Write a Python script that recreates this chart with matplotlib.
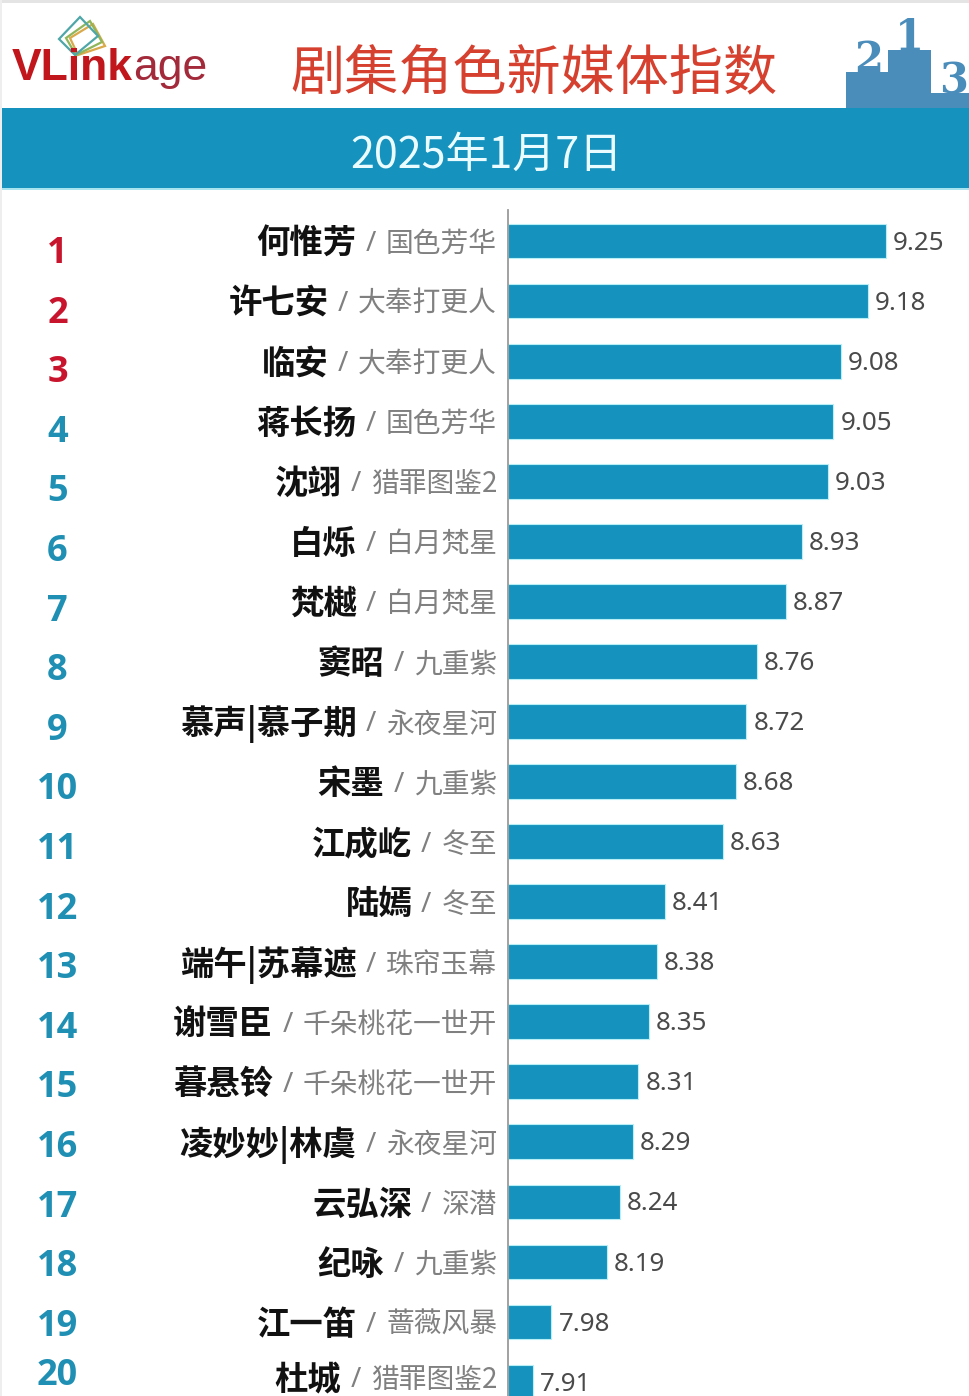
import matplotlib
matplotlib.use("Agg")
import matplotlib.pyplot as plt
from matplotlib.patches import Polygon, Rectangle

plt.rcParams['font.family'] = ['Noto Sans CJK SC', 'DejaVu Sans']

roles = ["何惟芳","许七安","临安","蒋长扬","沈翊","白烁","梵樾","窦昭","慕声|慕子期","宋墨",
         "江成屹","陆嫣","端午|苏幕遮","谢雪臣","暮悬铃","凌妙妙|林虞","云弘深","纪咏","江一笛","杜城"]
shows = ["国色芳华","大奉打更人","大奉打更人","国色芳华","猎罪图鉴2","白月梵星","白月梵星","九重紫","永夜星河","九重紫",
         "冬至","冬至","珠帘玉幕","千朵桃花一世开","千朵桃花一世开","永夜星河","深潜","九重紫","蔷薇风暴","猎罪图鉴2"]
values = [9.25,9.18,9.08,9.05,9.03,8.93,8.87,8.76,8.72,8.68,
          8.63,8.41,8.38,8.35,8.31,8.29,8.24,8.19,7.98,7.91]
ranks = list(range(1, 21))
title = "剧集角色新媒体指数"
date_label = "2025年1月7日"

W, H = 970, 1396
BLUE = "#1592bd"
fig = plt.figure(figsize=(W/100, H/100), dpi=100, facecolor="white")

bg = fig.add_axes([0, 0, 1, 1])
bg.set_xlim(0, W); bg.set_ylim(H, 0); bg.axis("off")
bg.add_patch(Rectangle((0, 0), W, 3, fc="#e4e4e4", ec="none"))
bg.add_patch(Rectangle((0, 0), 2, H, fc="#eeeeee", ec="none"))
bg.add_patch(Rectangle((2, 108), W, 80, fc=BLUE, ec="none"))
bg.add_patch(Rectangle((2, 188), W, 1.5, fc="#a8e4f0", ec="none"))

# logo
for pts, c, lw in [([(70,38),(93,24),(105,46),(78,55)], "#d9a94a", 1.6),
                   ([(66,38),(90,21),(102,42),(76,55)], "#8fb65a", 1.6),
                   ([(59,39),(80,17),(98,36),(75,55)], "#4fa6a8", 1.6)]:
    bg.add_patch(Polygon(pts, closed=True, fc="none", ec=c, lw=lw))
bg.text(12, 80, "VLink", family=["Liberation Sans"], weight="bold", fontsize=32,
        color="#c0161c", ha="left", va="baseline", zorder=5)
bg.text(133, 80, "age", family=["Liberation Sans"], fontsize=32,
        color="#a32a3a", ha="left", va="baseline", zorder=5)

# podium
PODIUM = "#4a8dbb"
bg.add_patch(Polygon([(846,108),(846,72),(888,72),(888,50),(931,50),(931,93),(970,93),(970,108)],
                     closed=True, fc=PODIUM, ec="none"))
for s, x, y in [("2", 869, 72), ("1", 909, 50), ("3", 954, 93)]:
    bg.text(x, y, s, family=["DejaVu Serif"], weight="bold", fontsize=30,
            color=PODIUM, ha="center", va="baseline")

bg.text(534, 75, title, fontsize=39, color="#d5402f", ha="center", va="center")
bg.text(486, 156, date_label, fontsize=31, color="#eafcff", ha="center", va="center")

PX_PER_UNIT = 263.4
ax = fig.add_axes([508/W, 0, (W-508)/W, (H-210)/H])
ax.patch.set_alpha(0)
ax.set_xlim(7.815, 7.815 + (W-508)/PX_PER_UNIT)
ax.set_ylim(1 + (H-241)/60.06, 1 + (210-241)/60.06)
for s in ["top", "right", "bottom"]:
    ax.spines[s].set_visible(False)
ax.spines["left"].set_color("#9a9a9a")
ax.spines["left"].set_linewidth(1.3)
ax.set_xticks([]); ax.set_yticks([])

base = 7.815
ax.barh(ranks, [v - base for v in values], left=base, height=0.58,
        color=BLUE, edgecolor="#b8eef6", linewidth=0.8, zorder=2)

fig.canvas.draw()
r = fig.canvas.get_renderer()
pt = 72 / 100

def label(x_px_off, rank, s, dy, **kw):
    return ax.annotate(s, xy=(base, rank), xytext=(x_px_off*pt, dy*pt), textcoords="offset points",
                       ha="right", va="center", annotation_clip=False, **kw)

for rk, role, show, val in zip(ranks, roles, shows, values):
    ax.annotate(f"{val:.2f}", xy=(val, rk), xytext=(7*pt, -2*pt), textcoords="offset points",
                ha="left", va="center", fontsize=18.7, color="#4a4a4a",
                family=["Noto Sans"], annotation_clip=False)
    # the last row sits at the picture's bottom edge: lift its text so it stays whole
    dy = 2 if rk == 20 else -3
    t1 = label(-11, rk, show, dy, fontsize=20, color="#808080")
    w1 = t1.get_window_extent(r).width
    off = -11 - w1 - 10
    t2 = label(off, rk, "/", dy, fontsize=20, color="#808080", family=["Noto Sans"])
    off -= t2.get_window_extent(r).width + 9
    label(off, rk, role, dy, fontsize=24, color="#111111", weight="bold")
    py = 254 + (rk - 1) * 59.6
    if rk == 20:
        py -= 10
    bg.text(57.5, py, str(rk), family=["Open Sans"], weight="bold", fontsize=26,
            color="#c8142c" if rk <= 3 else "#1f8fb3", ha="center", va="center")

fig.savefig("out.png", dpi=100, facecolor="white")
